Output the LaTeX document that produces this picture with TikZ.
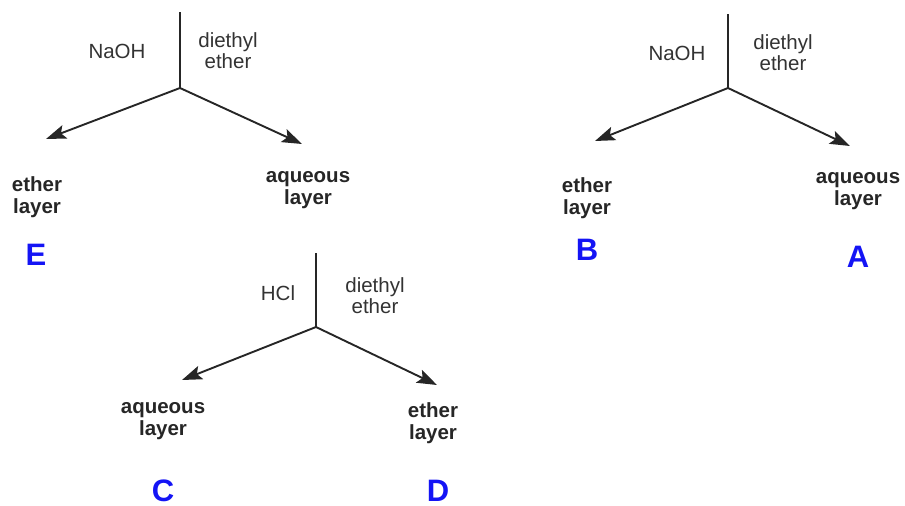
\documentclass[tikz,border=0pt]{standalone}
\usepackage{fontspec}
\setmainfont{Liberation Sans}
\usepackage{xcolor}
\definecolor{labblue}{RGB}{20,20,245}
\usetikzlibrary{arrows.meta}

\begin{document}
\begin{tikzpicture}[x=1pt,y=-1pt,
  reag/.style={font=\fontsize{20.5}{21}\selectfont,align=center,text=black!80},
  layer/.style={font=\fontsize{20.5}{22}\selectfont\bfseries,align=center,text=black!85},
  lett/.style={font=\fontsize{31}{31}\selectfont\bfseries,text=labblue,inner sep=0pt},
  arr/.style={-{Stealth[length=20pt,width=14pt,inset=4pt]},line width=1.9pt,black!85}]
\useasboundingbox (0,0) rectangle (905,506);

% NaOH / ether, left
\coordinate(1) at(180,12);
\coordinate(2) at(180,88);
\coordinate(3) at(46,139);
\coordinate(4) at(302,144);
\draw [line width=1.1pt,black!85](1)--(2);
\draw [arr](2)--(3);
\draw [arr](2)--(4);
\node[reag](5) at(117,51){NaOH};
\node[reag](6) at(228,51){diethyl\\ether};
\node[layer](7) at(37,197){ether\\layer};
\node[layer](8) at(308,190){aqueous\\layer};
\node[lett](9) at(36,255){E};

% NaOH / ether, right
\coordinate(11) at(728,14);
\coordinate(12) at(728,88);
\coordinate(13) at(595,141);
\coordinate(14) at(850,146);
\draw [line width=1.1pt,black!85](11)--(12);
\draw [arr](12)--(13);
\draw [arr](12)--(14);
\node[reag](15) at(677,53){NaOH};
\node[reag](16) at(783,53){diethyl\\ether};
\node[layer](17) at(587,198){ether\\layer};
\node[layer](18) at(858,191){aqueous\\layer};
\node[lett](19) at(587,250){B};
\node[lett](20) at(858,257){A};

% HCl / ether
\coordinate(21) at(316,253);
\coordinate(22) at(316,327);
\coordinate(23) at(182,380);
\coordinate(24) at(437,385);
\draw [line width=1.1pt,black!85](21)--(22);
\draw [arr](22)--(23);
\draw [arr](22)--(24);
\node[reag](25) at(278,293){HCl};
\node[reag](26) at(375,296){diethyl\\ether};
\node[layer](27) at(163,421){aqueous\\layer};
\node[layer](28) at(433,423){ether\\layer};
\node[lett](29) at(163,491){C};
\node[lett](30) at(438,491){D};

\end{tikzpicture}
\end{document}
